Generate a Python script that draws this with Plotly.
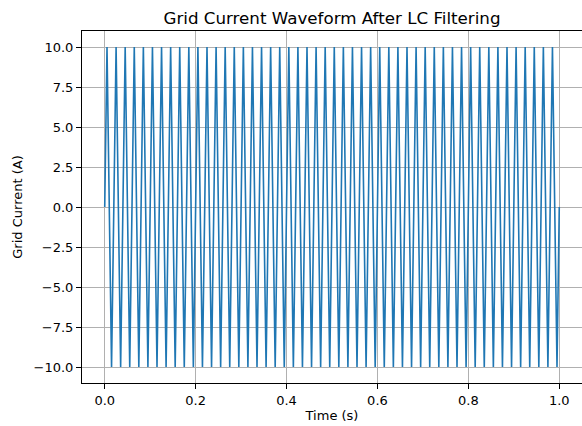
import plotly.graph_objects as go

# Waveform vertices: start, each positive/negative peak, end
time_s = [
    0.0,
    0.005, 0.015, 0.025, 0.035, 0.045, 0.055, 0.065, 0.075, 0.085, 0.095,
    0.105, 0.115, 0.125, 0.135, 0.145, 0.155, 0.165, 0.175, 0.185, 0.195,
    0.205, 0.215, 0.225, 0.235, 0.245, 0.255, 0.265, 0.275, 0.285, 0.295,
    0.305, 0.315, 0.325, 0.335, 0.345, 0.355, 0.365, 0.375, 0.385, 0.395,
    0.405, 0.415, 0.425, 0.435, 0.445, 0.455, 0.465, 0.475, 0.485, 0.495,
    0.505, 0.515, 0.525, 0.535, 0.545, 0.555, 0.565, 0.575, 0.585, 0.595,
    0.605, 0.615, 0.625, 0.635, 0.645, 0.655, 0.665, 0.675, 0.685, 0.695,
    0.705, 0.715, 0.725, 0.735, 0.745, 0.755, 0.765, 0.775, 0.785, 0.795,
    0.805, 0.815, 0.825, 0.835, 0.845, 0.855, 0.865, 0.875, 0.885, 0.895,
    0.905, 0.915, 0.925, 0.935, 0.945, 0.955, 0.965, 0.975, 0.985, 0.995,
    1.0,
]
current_a = [
    0,
    10, -10, 10, -10, 10, -10, 10, -10, 10, -10,
    10, -10, 10, -10, 10, -10, 10, -10, 10, -10,
    10, -10, 10, -10, 10, -10, 10, -10, 10, -10,
    10, -10, 10, -10, 10, -10, 10, -10, 10, -10,
    10, -10, 10, -10, 10, -10, 10, -10, 10, -10,
    10, -10, 10, -10, 10, -10, 10, -10, 10, -10,
    10, -10, 10, -10, 10, -10, 10, -10, 10, -10,
    10, -10, 10, -10, 10, -10, 10, -10, 10, -10,
    10, -10, 10, -10, 10, -10, 10, -10, 10, -10,
    10, -10, 10, -10, 10, -10, 10, -10, 10, -10,
    0,
]
x_ticks = [0.0, 0.2, 0.4, 0.6, 0.8, 1.0]
y_ticks = [-10.0, -7.5, -5.0, -2.5, 0.0, 2.5, 5.0, 7.5, 10.0]

font = "DejaVu Sans, Arial, sans-serif"

fig = go.Figure()
fig.add_trace(go.Scatter(
    x=time_s, y=current_a, mode="lines",
    line=dict(color="#1f77b4", width=1.6),
    showlegend=False,
))

axis_common = dict(
    showgrid=True, gridcolor="#b0b0b0", gridwidth=0.8,
    zeroline=False,
    showline=True, linecolor="black", linewidth=1, mirror=True,
    ticks="outside", ticklen=5, tickwidth=1, tickcolor="black",
    tickfont=dict(family=font, size=13, color="black"),
)

fig.update_layout(
    width=582, height=426,
    margin=dict(l=82, r=0, t=31, b=43),
    paper_bgcolor="white", plot_bgcolor="white",
    title=dict(text="Grid Current Waveform After LC Filtering",
               font=dict(family=font, size=16.7, color="black"),
               x=(82 + 582) / 2 / 582, xanchor="center",
               y=1 - 18 / 426, yanchor="middle"),
    xaxis=dict(range=[-0.05, 1.05], tickvals=x_ticks, tickformat=".1f",
               title=dict(text="Time (s)", font=dict(family=font, size=13, color="black"),
                          standoff=4),
               **axis_common),
    yaxis=dict(range=[-11, 11], tickvals=y_ticks, tickformat=".1f",
               title=dict(text="Grid Current (A)", font=dict(family=font, size=13, color="black"),
                          standoff=8),
               **axis_common),
)

fig.write_html("out.html")
